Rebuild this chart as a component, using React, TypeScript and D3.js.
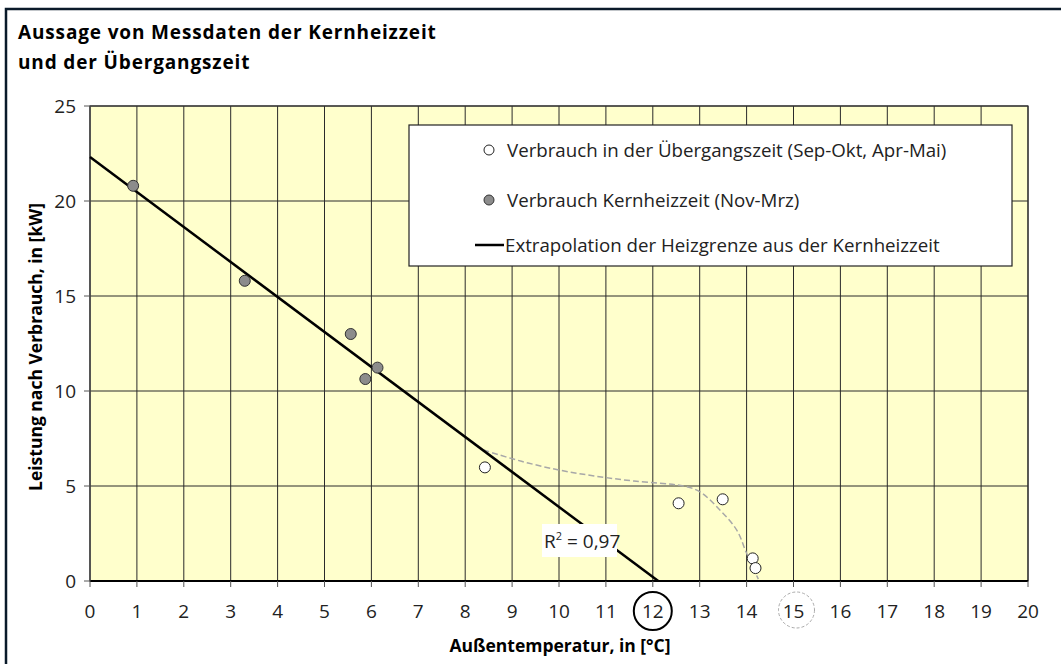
import React from "react";
import * as d3 from "d3";

const xTicks = d3.range(0, 21);
const yTicks = [0, 5, 10, 15, 20, 25];

// Kernheizzeit (gray points)
const coreX = [0.92, 3.3, 5.56, 5.87, 6.13];
const coreY = [20.8, 15.8, 13.0, 10.63, 11.23];

// Übergangszeit (white points)
const transX = [8.42, 12.55, 13.49, 14.13, 14.19];
const transY = [5.98, 4.09, 4.3, 1.19, 0.68];

// dashed trend through transition points
const trendX = [8.39, 9.2, 10.0, 10.75, 11.6, 12.65, 13.0, 13.43, 13.79, 14.0, 14.25];
const trendY = [6.89, 6.3, 5.84, 5.53, 5.26, 5.0, 4.7, 3.74, 2.68, 1.46, 0.1];

const legendLabels = [
  "Verbrauch in der Übergangszeit (Sep-Okt, Apr-Mai)",
  "Verbrauch Kernheizzeit (Nov-Mrz)",
  "Extrapolation der Heizgrenze aus der Kernheizzeit",
];

const titleLines = ["Aussage von Messdaten der Kernheizzeit", "und der Übergangszeit"];
const xTitle = "Außentemperatur, in [°C]";
const yTitle = "Leistung nach Verbrauch, in [kW]";
const r2Label = "0,97";
const circledTick = 12;
const dashedCircledTick = 15;

const FONT = "'Open Sans', 'DejaVu Sans', sans-serif";

export default function App() {
  const W = 1061, H = 664;
  const left = 90, right = 1028, top = 106, bottom = 581;
  const x = d3.scaleLinear().domain([0, 20]).range([left, right]);
  const y = d3.scaleLinear().domain([0, 25]).range([bottom, top]);

  // linear regression on core points
  const mx = d3.mean(coreX)!, my = d3.mean(coreY)!;
  let sxy = 0, sxx = 0;
  coreX.forEach((v, i) => { sxy += (v - mx) * (coreY[i] - my); sxx += (v - mx) ** 2; });
  const slope = sxy / sxx;
  const intercept = my - slope * mx;
  const xZero = -intercept / slope;
  const regLine = d3.line<number>().x(d => x(d)).y(d => y(intercept + slope * d));

  const trendLine = d3.line<number>()
    .x((_, i) => x(trendX[i]))
    .y((_, i) => y(trendY[i]))
    .curve(d3.curveCatmullRom.alpha(0.5));

  const grid = "#2a2a2a";
  const legendRowsY = [150, 200, 245];

  return (
    <svg width={W} height={H} style={{ position: "absolute", left: 0, top: 0, background: "#fff" }} fontFamily={FONT}>
      <rect x={0} y={0} width={W} height={H} fill="#fff" />
      {/* outer frame */}
      <rect x={6} y={9} width={W + 20} height={H + 20} fill="none" stroke="#0a1a2a" strokeWidth={2.5} />
      {/* title */}
      {titleLines.map((t, i) => (
        <text key={i} x={18} y={39 + i * 30} fontSize={19} fontWeight="bold" letterSpacing={0.85} fill="#000">{t}</text>
      ))}
      {/* plot bg */}
      <rect x={left} y={top} width={right - left} height={bottom - top} fill="#FFFFCC" />
      {/* grid */}
      {xTicks.map(t => (
        <line key={"gx" + t} x1={x(t)} x2={x(t)} y1={top} y2={bottom} stroke={grid} strokeWidth={1} />
      ))}
      {yTicks.map(t => (
        <line key={"gy" + t} x1={left} x2={right} y1={y(t)} y2={y(t)} stroke={grid} strokeWidth={1} />
      ))}
      <rect x={left} y={top} width={right - left} height={bottom - top} fill="none" stroke="#333" strokeWidth={1.2} />
      {/* axes */}
      <line x1={left} x2={right} y1={bottom} y2={bottom} stroke="#000" strokeWidth={2} />
      <line x1={left} x2={left} y1={top} y2={bottom} stroke="#555" strokeWidth={1} />
      {xTicks.map(t => (
        <line key={"tx" + t} x1={x(t)} x2={x(t)} y1={bottom} y2={bottom + 6} stroke="#555" strokeWidth={1} />
      ))}
      {yTicks.map(t => (
        <line key={"ty" + t} x1={left - 6} x2={left} y1={y(t)} y2={y(t)} stroke="#555" strokeWidth={1} />
      ))}
      {xTicks.map(t => (
        <text key={"lx" + t} x={x(t)} y={618} fontSize={19} textAnchor="middle" fill="#222">{t}</text>
      ))}
      {yTicks.map(t => (
        <text key={"ly" + t} x={76} y={y(t) + 7} fontSize={19} textAnchor="end" fill="#222">{t}</text>
      ))}
      {/* circles around ticks */}
      <circle cx={x(circledTick)} cy={611} r={19} fill="none" stroke="#000" strokeWidth={2} />
      <circle cx={x(dashedCircledTick) + 3} cy={610} r={18} fill="none" stroke="#aaa" strokeWidth={1} strokeDasharray="3,2" />
      {/* axis titles */}
      <text x={560} y={652} fontSize={17.5} fontWeight="bold" textAnchor="middle" fill="#000">{xTitle}</text>
      <text transform={`translate(42,347) rotate(-90)`} fontSize={17.5} fontWeight="bold" textAnchor="middle" fill="#000">{yTitle}</text>
      {/* trend dashed */}
      <path d={trendLine(trendX) || ""} fill="none" stroke="#a8a8a8" strokeWidth={1.5} strokeDasharray="6,3" />
      {/* regression */}
      <path d={regLine([0, xZero]) || ""} fill="none" stroke="#000" strokeWidth={2.5} />
      {/* R2 label */}
      <rect x={542} y={524} width={75} height={33} fill="#fff" />
      <text x={544} y={548} fontSize={19} fill="#222">R<tspan dy={-8} fontSize={11}>2</tspan><tspan dy={8}> = {r2Label}</tspan></text>
      {/* points */}
      {coreX.map((v, i) => (
        <circle key={"c" + i} cx={x(v)} cy={y(coreY[i])} r={5.5} fill="#8c8c8c" stroke="#333" strokeWidth={1} />
      ))}
      {transX.map((v, i) => (
        <circle key={"t" + i} cx={x(v)} cy={y(transY[i])} r={5.5} fill="#fff" stroke="#222" strokeWidth={1} />
      ))}
      {/* legend */}
      <rect x={409} y={125} width={603} height={141} fill="#fff" stroke="#222" strokeWidth={1.2} />
      <circle cx={489} cy={legendRowsY[0]} r={5} fill="#fff" stroke="#222" strokeWidth={1} />
      <text x={507} y={legendRowsY[0] + 7} fontSize={18.7} fill="#222">{legendLabels[0]}</text>
      <circle cx={489} cy={legendRowsY[1]} r={5} fill="#8c8c8c" stroke="#333" strokeWidth={1} />
      <text x={507} y={legendRowsY[1] + 7} fontSize={18.7} fill="#222">{legendLabels[1]}</text>
      <line x1={475} x2={504} y1={legendRowsY[2]} y2={legendRowsY[2]} stroke="#000" strokeWidth={2.5} />
      <text x={505} y={legendRowsY[2] + 7} fontSize={18.7} fill="#222">{legendLabels[2]}</text>
    </svg>
  );
}
